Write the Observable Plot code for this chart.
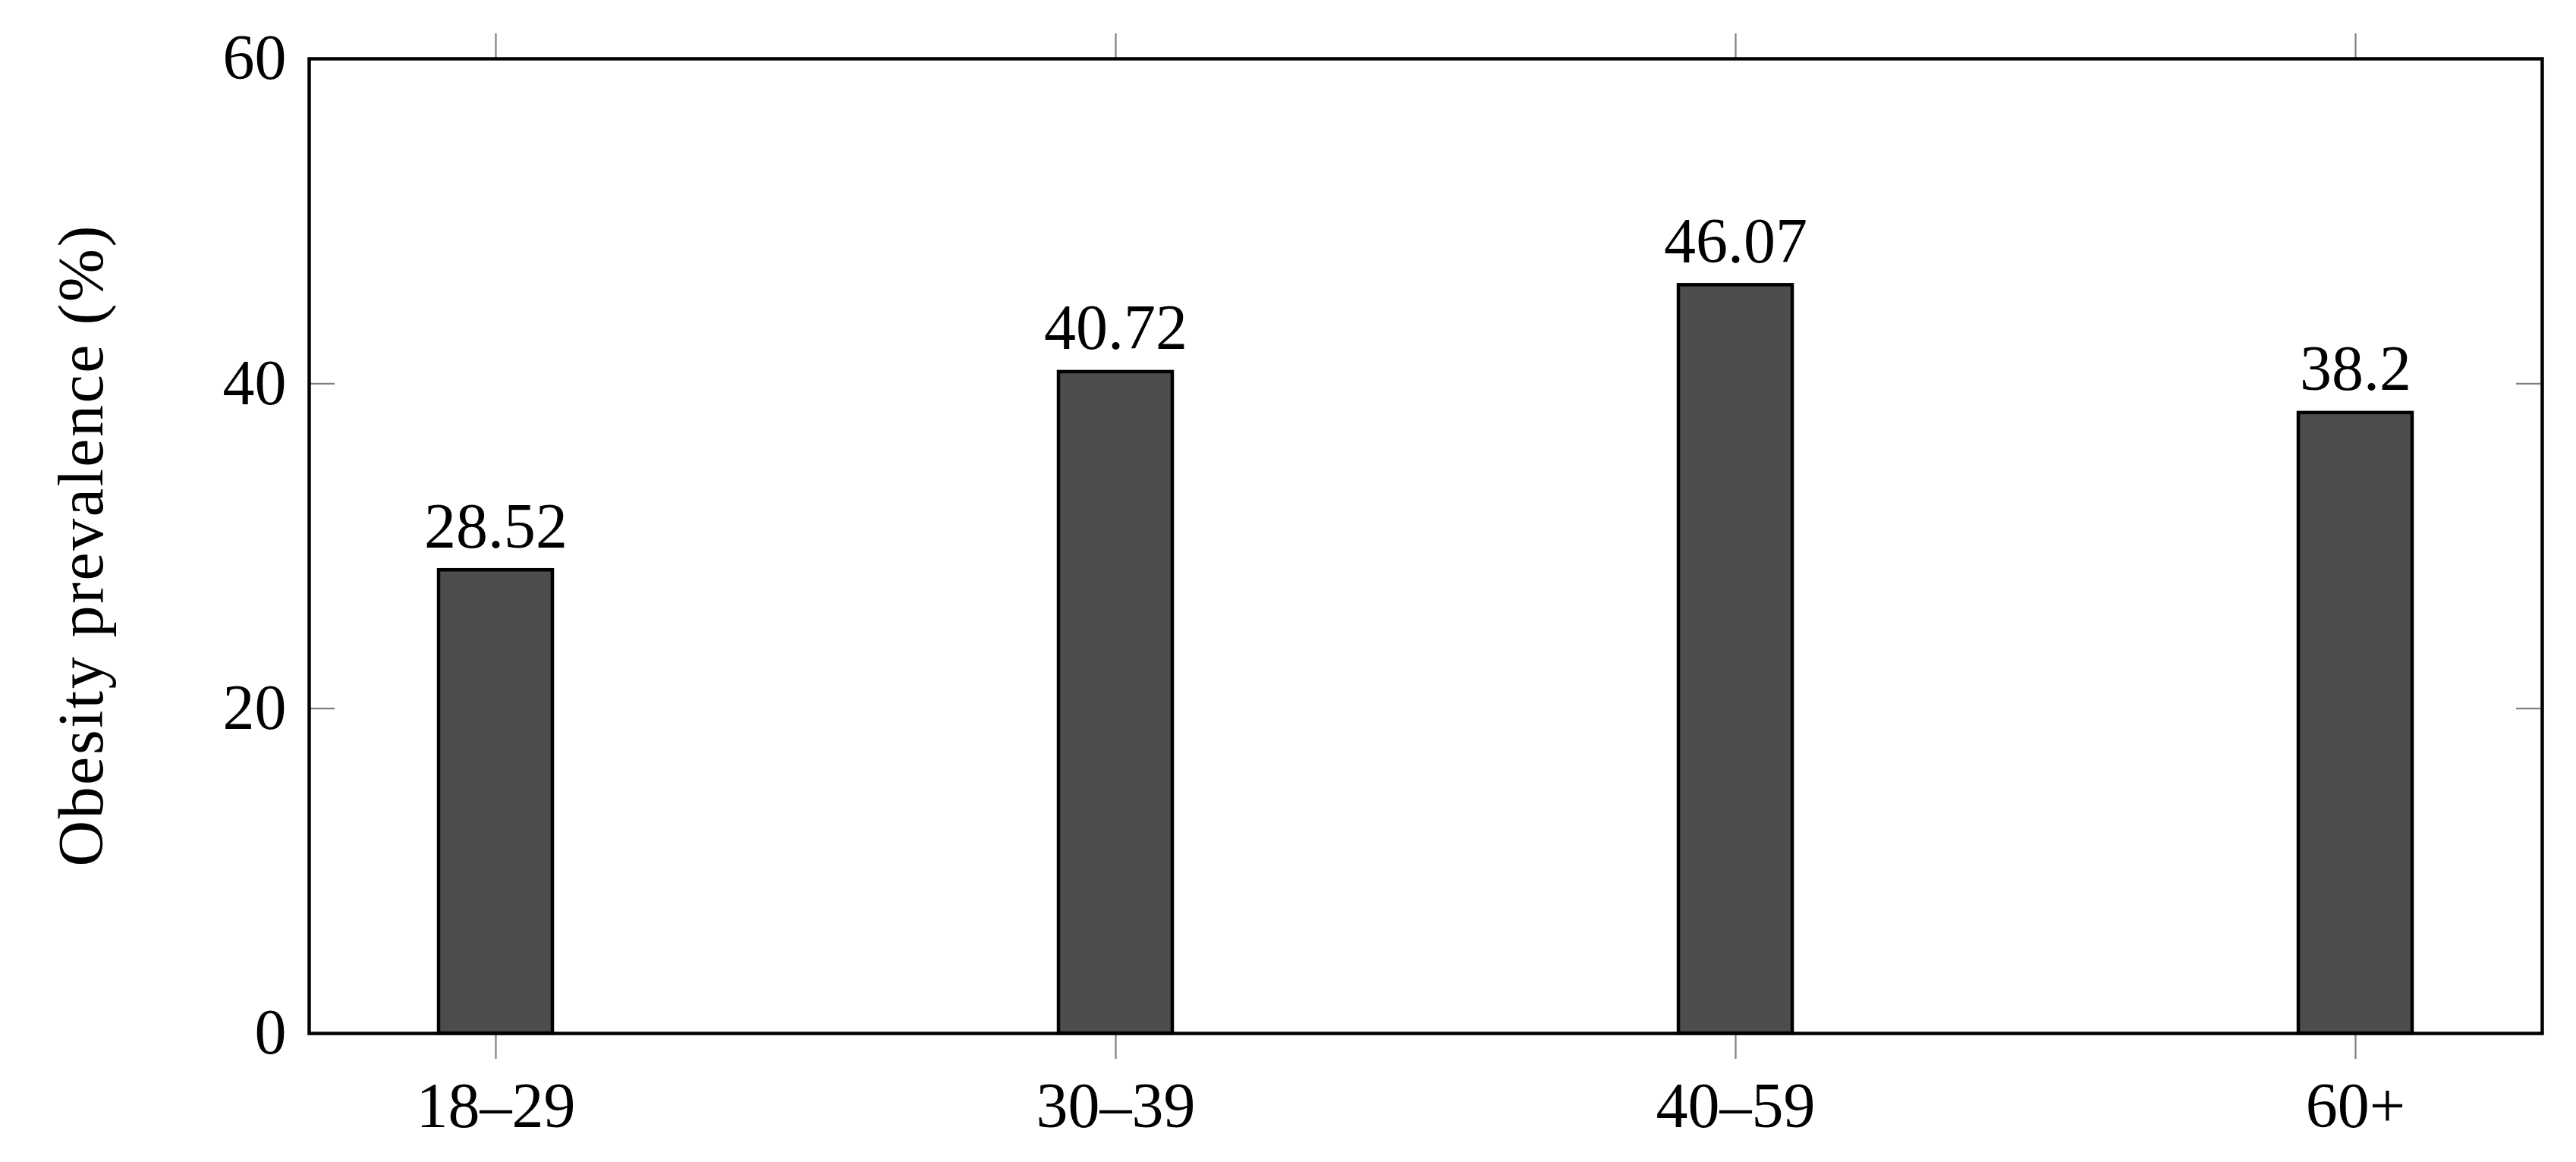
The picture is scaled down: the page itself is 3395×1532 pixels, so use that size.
<!DOCTYPE html>
<html>
<head>
<meta charset="utf-8">
<script src="https://cdn.jsdelivr.net/npm/d3@7"></script>
<script src="https://cdn.jsdelivr.net/npm/@observablehq/plot@0.6"></script>
<style>
  html, body { margin: 0; padding: 0; background: #fff; }
  #chart svg { display: block; }
</style>
</head>
<body>
<div id="chart"></div>
<script>
const ageGroups = ["18–29", "30–39", "40–59", "60+"];
const prevalence = [28.52, 40.72, 46.07, 38.2];
const yTicks = [0, 20, 40, 60];
const yLabel = "Obesity prevalence (%)";

const data = ageGroups.map((g, i) => ({group: g, value: prevalence[i]}));

const W = 3395, H = 1532;
const mL = 407, mR = 45, mT = 77, mB = 170;
const innerW = W - mL - mR;
const font = "Liberation Serif, Times New Roman, serif";
const fs = 84;

const svg = Plot.plot({
  width: W,
  height: H,
  marginLeft: mL,
  marginRight: mR,
  marginTop: mT,
  marginBottom: mB,
  style: {fontFamily: font, fontSize: fs + "px", background: "#fff", color: "#000"},
  x: {domain: ageGroups, paddingInner: 0.8164, paddingOuter: 0.208, label: null},
  y: {domain: [0, 60], label: null},
  marks: [
    Plot.barY(data, {x: "group", y: "value", fill: "#4d4d4d", stroke: "#000", strokeWidth: 4.5}),
    // inner y ticks on left and right
    Plot.tickY(yTicks, {y: d => d, stroke: "#808080", strokeWidth: 2.2, insetRight: innerW - 34}),
    Plot.tickY(yTicks, {y: d => d, stroke: "#808080", strokeWidth: 2.2, insetLeft: innerW - 34}),
    // outer x ticks top and bottom
    Plot.axisX({anchor: "bottom", tickSize: 34, stroke: "#808080", strokeWidth: 2.2, tickFormat: () => ""}),
    Plot.axisX({anchor: "top", tickSize: 34, stroke: "#808080", strokeWidth: 2.2, tickFormat: () => ""}),
    Plot.axisX({anchor: "bottom", tickSize: 0, tickPadding: 64, fontSize: fs, fill: "#000", label: null}),
    Plot.axisY({anchor: "left", ticks: yTicks, tickSize: 0, tickPadding: 30, fontSize: fs, fill: "#000", label: null}),
    Plot.frame({stroke: "#000", strokeWidth: 4.5}),
    Plot.text(data, {x: "group", y: "value", text: d => String(d.value), lineAnchor: "bottom", dy: -30, fontSize: fs, fill: "#000"}),
    Plot.text([yLabel], {frameAnchor: "left", text: d => d, rotate: -90, textAnchor: "middle", lineAnchor: "bottom", dx: -273, fontSize: fs, fill: "#000"})
  ]
});

d3.select(svg).selectAll("text")
  .filter(function () { return this.textContent === yLabel; })
  .attr("textLength", 845)
  .attr("lengthAdjust", "spacing");
document.getElementById("chart").appendChild(svg);
</script>
</body>
</html>
